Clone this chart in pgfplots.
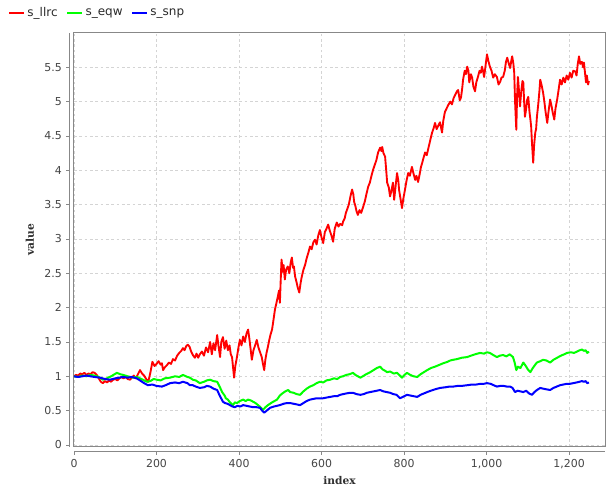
\documentclass[border=0pt]{standalone}
\usepackage{fontspec}
\setmainfont{DejaVu Sans}
\newfontfamily\labelfont{DejaVu Serif}
\usepackage{pgfplots}
\pgfplotsset{compat=1.18}
\usepackage{pgfplotstable}

\definecolor{framegray}{RGB}{136,136,136}
\definecolor{gridgray}{RGB}{212,212,212}
\definecolor{ticktext}{RGB}{68,68,68}

\pgfplotstableread{
x y
0 1.00
5 1.02
10 1.01
15 1.04
20 1.03
25 1.05
30 1.02
35 1.04
40 1.03
45 1.06
50 1.05
55 1.02
60 0.97
65 0.92
70 0.90
75 0.93
80 0.91
85 0.94
90 0.92
95 0.95
100 0.96
105 0.94
110 0.97
115 0.99
120 0.97
125 0.99
130 0.96
136 0.95
140 0.98
145 1.01
150 0.97
155 1.03
160 1.09
165 1.04
170 1.01
175 0.96
180 0.92
185 1.05
190 1.21
195 1.15
200 1.18
205 1.22
210 1.17
213 1.19
216 1.09
220 1.13
225 1.16
230 1.20
235 1.18
240 1.25
245 1.23
250 1.30
255 1.34
260 1.37
264 1.41
268 1.38
272 1.44
276 1.46
280 1.43
284 1.36
288 1.31
293 1.27
297 1.33
301 1.27
305 1.32
310 1.36
315 1.30
320 1.42
325 1.35
330 1.50
334 1.32
338 1.48
342 1.38
347 1.60
350 1.45
354 1.28
357 1.50
361 1.57
365 1.40
369 1.52
373 1.38
377 1.45
380 1.32
383 1.28
386 1.10
388 0.98
391 1.15
395 1.28
398 1.40
402 1.53
406 1.45
410 1.58
414 1.50
418 1.62
422 1.68
425 1.55
428 1.40
431 1.24
435 1.38
439 1.45
443 1.53
447 1.42
451 1.35
455 1.28
458 1.18
461 1.09
464 1.25
467 1.35
470 1.43
473 1.52
476 1.60
480 1.68
483 1.80
487 1.97
490 2.05
494 2.16
497 2.25
499 2.07
501 2.40
503 2.70
506 2.52
508 2.62
511 2.41
514 2.55
518 2.60
522 2.50
525 2.65
528 2.73
531 2.58
533 2.60
536 2.45
539 2.38
542 2.30
546 2.22
549 2.35
552 2.45
556 2.55
560 2.62
564 2.72
568 2.80
572 2.89
576 2.85
580 2.95
584 2.99
588 2.92
592 3.05
596 3.13
600 3.02
604 2.94
608 3.10
612 3.15
616 3.21
620 3.12
624 3.05
628 2.96
632 3.15
637 3.24
641 3.18
645 3.22
650 3.20
652 3.25
656 3.30
659 3.38
662 3.43
666 3.50
670 3.62
674 3.72
677 3.65
679 3.54
682 3.48
685 3.40
688 3.35
692 3.42
696 3.38
701 3.47
705 3.55
709 3.66
713 3.76
717 3.82
721 3.92
725 4.01
729 4.08
733 4.15
737 4.26
742 4.33
745 4.28
747 4.34
750 4.25
754 4.20
757 3.98
759 3.82
763 3.75
766 3.62
770 3.72
773 3.82
776 3.57
780 3.80
783 3.96
786 3.85
788 3.71
791 3.60
795 3.45
798 3.58
802 3.71
806 3.85
810 3.96
814 3.92
819 4.05
823 3.95
827 3.86
830 3.92
834 3.83
838 3.95
841 4.05
844 4.11
848 4.20
851 4.26
855 4.22
858 4.30
862 4.40
865 4.48
868 4.55
872 4.62
875 4.69
879 4.60
882 4.64
887 4.70
892 4.55
895 4.72
899 4.85
903 4.90
907 4.95
912 5.00
916 4.96
920 5.05
924 5.10
928 5.15
931 5.17
935 5.02
938 5.06
941 5.20
943 5.32
947 5.45
950 5.40
953 5.51
956 5.45
958 5.28
962 5.40
965 5.35
968 5.22
972 5.15
975 5.28
979 5.36
983 5.45
986 5.42
989 5.51
992 5.43
994 5.36
997 5.50
1001 5.69
1004 5.60
1008 5.51
1012 5.45
1016 5.35
1020 5.40
1025 5.36
1029 5.25
1033 5.29
1036 5.35
1040 5.36
1044 5.45
1047 5.58
1050 5.64
1054 5.55
1057 5.49
1060 5.60
1062 5.66
1065 5.55
1067 5.42
1069 5.00
1072 4.59
1074 5.10
1076 5.36
1078 5.20
1081 4.93
1084 5.15
1087 5.30
1089 5.28
1091 5.00
1093 4.78
1096 4.90
1098 5.02
1101 5.07
1104 4.85
1106 4.75
1108 4.64
1110 4.40
1113 4.11
1115 4.35
1118 4.55
1120 4.60
1122 4.78
1125 4.95
1128 5.15
1130 5.32
1133 5.25
1137 5.13
1140 5.00
1143 4.85
1147 4.69
1150 4.85
1154 5.03
1157 4.95
1160 4.85
1164 4.74
1167 4.90
1171 5.03
1174 5.15
1178 5.32
1182 5.25
1186 5.35
1190 5.28
1194 5.38
1198 5.32
1202 5.42
1206 5.35
1210 5.45
1215 5.44
1218 5.38
1221 5.55
1224 5.66
1227 5.55
1231 5.58
1234 5.50
1236 5.57
1238 5.45
1241 5.28
1243 5.38
1246 5.25
1248 5.30
}\llrc

\pgfplotstableread{
x y
0 1.00
10 0.99
20 1.01
30 1.00
40 1.02
50 1.01
60 0.99
70 0.95
80 0.97
90 1.00
104 1.05
112 1.03
119 1.02
130 1.00
143 0.98
152 0.99
160 0.97
170 0.94
177 0.92
185 0.93
193 0.96
201 0.95
210 0.94
220 0.97
233 0.98
245 1.00
255 0.99
264 1.02
275 0.99
281 0.98
288 0.95
295 0.94
305 0.90
315 0.92
322 0.94
330 0.95
338 0.93
347 0.92
353 0.85
359 0.77
365 0.72
368 0.68
373 0.66
378 0.62
385 0.58
390 0.62
395 0.61
402 0.64
410 0.66
416 0.64
422 0.66
428 0.65
434 0.63
440 0.61
446 0.58
452 0.55
458 0.51
464 0.55
470 0.58
480 0.62
492 0.66
499 0.72
505 0.75
512 0.78
519 0.80
524 0.77
532 0.76
540 0.74
548 0.73
556 0.78
564 0.82
572 0.85
580 0.87
588 0.90
596 0.92
604 0.91
612 0.94
621 0.95
630 0.97
638 0.96
645 0.99
652 1.00
660 1.02
668 1.03
676 1.05
682 1.02
688 1.00
694 0.98
700 1.00
708 1.03
718 1.06
726 1.09
734 1.12
742 1.14
748 1.10
754 1.08
759 1.06
766 1.07
775 1.04
783 1.05
790 1.01
795 0.98
801 1.02
807 1.05
815 1.02
823 1.00
832 0.99
840 1.03
848 1.06
856 1.09
865 1.12
875 1.14
887 1.17
895 1.19
905 1.21
912 1.23
919 1.24
928 1.25
940 1.27
953 1.28
962 1.30
972 1.32
984 1.34
994 1.33
1001 1.35
1008 1.34
1016 1.31
1025 1.28
1032 1.30
1040 1.31
1048 1.29
1056 1.32
1064 1.28
1068 1.20
1072 1.09
1076 1.14
1082 1.12
1089 1.20
1095 1.15
1100 1.10
1106 1.06
1112 1.12
1118 1.17
1122 1.20
1130 1.22
1137 1.24
1145 1.23
1154 1.20
1162 1.24
1171 1.27
1180 1.30
1188 1.32
1195 1.34
1204 1.35
1212 1.34
1219 1.36
1226 1.38
1231 1.39
1236 1.37
1240 1.38
1244 1.34
1248 1.36
}\eqw

\pgfplotstableread{
x y
0 1.00
10 0.99
20 1.00
30 1.01
40 1.00
50 0.99
63 0.98
75 0.96
87 0.95
100 0.97
110 0.98
119 0.99
130 0.98
140 0.99
152 0.97
160 0.94
170 0.90
179 0.87
190 0.88
200 0.86
213 0.85
222 0.87
233 0.90
245 0.91
255 0.90
264 0.92
275 0.90
281 0.87
288 0.87
295 0.85
305 0.83
315 0.84
322 0.86
330 0.85
338 0.82
347 0.80
353 0.72
361 0.63
366 0.61
372 0.60
378 0.58
384 0.56
390 0.55
396 0.57
403 0.56
410 0.58
418 0.57
426 0.56
434 0.55
442 0.55
451 0.54
456 0.50
461 0.47
467 0.50
475 0.54
485 0.56
492 0.57
499 0.58
508 0.60
516 0.61
524 0.61
532 0.60
540 0.59
548 0.58
556 0.61
564 0.64
572 0.66
580 0.67
588 0.68
596 0.68
604 0.68
612 0.69
621 0.70
630 0.71
638 0.71
645 0.73
652 0.74
660 0.75
669 0.76
676 0.76
685 0.74
694 0.73
702 0.74
710 0.76
718 0.77
726 0.78
734 0.79
742 0.80
750 0.78
758 0.77
766 0.76
774 0.74
782 0.73
790 0.68
797 0.70
807 0.73
815 0.72
823 0.71
832 0.70
840 0.73
848 0.75
856 0.77
865 0.79
875 0.81
887 0.83
900 0.84
910 0.85
919 0.85
930 0.86
940 0.86
953 0.87
965 0.88
975 0.88
985 0.89
993 0.89
1001 0.90
1010 0.89
1017 0.87
1025 0.85
1033 0.86
1041 0.86
1049 0.85
1057 0.85
1063 0.83
1069 0.77
1075 0.79
1082 0.78
1089 0.77
1096 0.79
1103 0.75
1110 0.73
1116 0.77
1122 0.80
1130 0.83
1137 0.82
1145 0.81
1154 0.80
1162 0.83
1170 0.85
1178 0.87
1186 0.88
1194 0.89
1202 0.89
1210 0.90
1218 0.91
1225 0.92
1231 0.93
1236 0.92
1240 0.93
1244 0.90
1248 0.91
}\snp

\begin{document}
\begin{tikzpicture}[x=1pt,y=1pt]
\begin{axis}[
  at={(0,0)}, anchor=south west,
  scale only axis, width=398.25pt, height=310.5pt,
  xmin=0, xmax=1287, ymin=-0.03, ymax=6.0,
  xtick={0,200,400,600,800,1000,1200},
  ytick={0,0.5,1,1.5,2,2.5,3,3.5,4,4.5,5,5.5},
  /pgf/number format/assume math mode=true,
  /pgf/number format/1000 sep={,},
  major tick length=0pt,
  axis line style={framegray, line width=0.75pt},
  grid=major,
  major grid style={gridgray, line width=0.6pt, dash pattern=on 2pt off 2pt},
  xticklabel style={font=\fontsize{8.2}{10}\selectfont, text=ticktext, anchor=north, inner sep=0pt, yshift=-9pt},
  yticklabel style={font=\fontsize{8.2}{10}\selectfont, text=ticktext, anchor=east, inner sep=0pt, xshift=-9pt},
  xlabel={index}, ylabel={value},
  every axis x label/.style={at={(axis description cs:0.5,-0.082)}, anchor=center, font=\labelfont\bfseries\fontsize{8}{9}\selectfont, text=ticktext!70!black},
  every axis y label/.style={at={(axis description cs:-0.083,0.5)}, rotate=90, anchor=center, font=\labelfont\bfseries\fontsize{8}{9}\selectfont, text=ticktext!70!black},
  legend columns=3,
  legend style={at={(axis description cs:0,1)}, anchor=west, xshift=-49.5pt, yshift=15pt,
    draw=none, fill=none, inner sep=0pt, font=\fontsize{9}{11}\selectfont, text=ticktext!60!black,
    /tikz/every even column/.append style={column sep=4.5pt}},
  legend cell align=left,
  legend image code/.code={\draw[#1, line width=1.4pt] (0pt,0pt) -- (11pt,0pt);},
  clip=true,
]
\addplot[red, line width=1.4pt, line join=round] table {\llrc};
\addlegendentry{s\_llrc}
\addplot[green, line width=1.5pt, line join=round] table {\eqw};
\addlegendentry{s\_eqw}
\addplot[blue, line width=1.5pt, line join=round] table {\snp};
\addlegendentry{s\_snp}
\end{axis}
\draw[framegray, line width=0.75pt] (-3.75,0) -- (-3.75,310.5);
\draw[framegray, line width=0.75pt] (0,-3.75) -- (398.25,-3.75);
\foreach \v in {0,0.5,1,1.5,2,2.5,3,3.5,4,4.5,5,5.5}
  \draw[framegray, line width=0.6pt] (-3.75,{(\v+0.03)/6.03*310.5}) -- ++(-2.25,0);
\foreach \v in {0,200,400,600,800,1000,1200}
  \draw[framegray, line width=0.6pt] ({\v/1287*398.25},-3.75) -- ++(0,-2.25);
\pgfresetboundingbox
\path (-55.5,-31.5) rectangle (399.75,335.25);
\end{tikzpicture}
\end{document}
